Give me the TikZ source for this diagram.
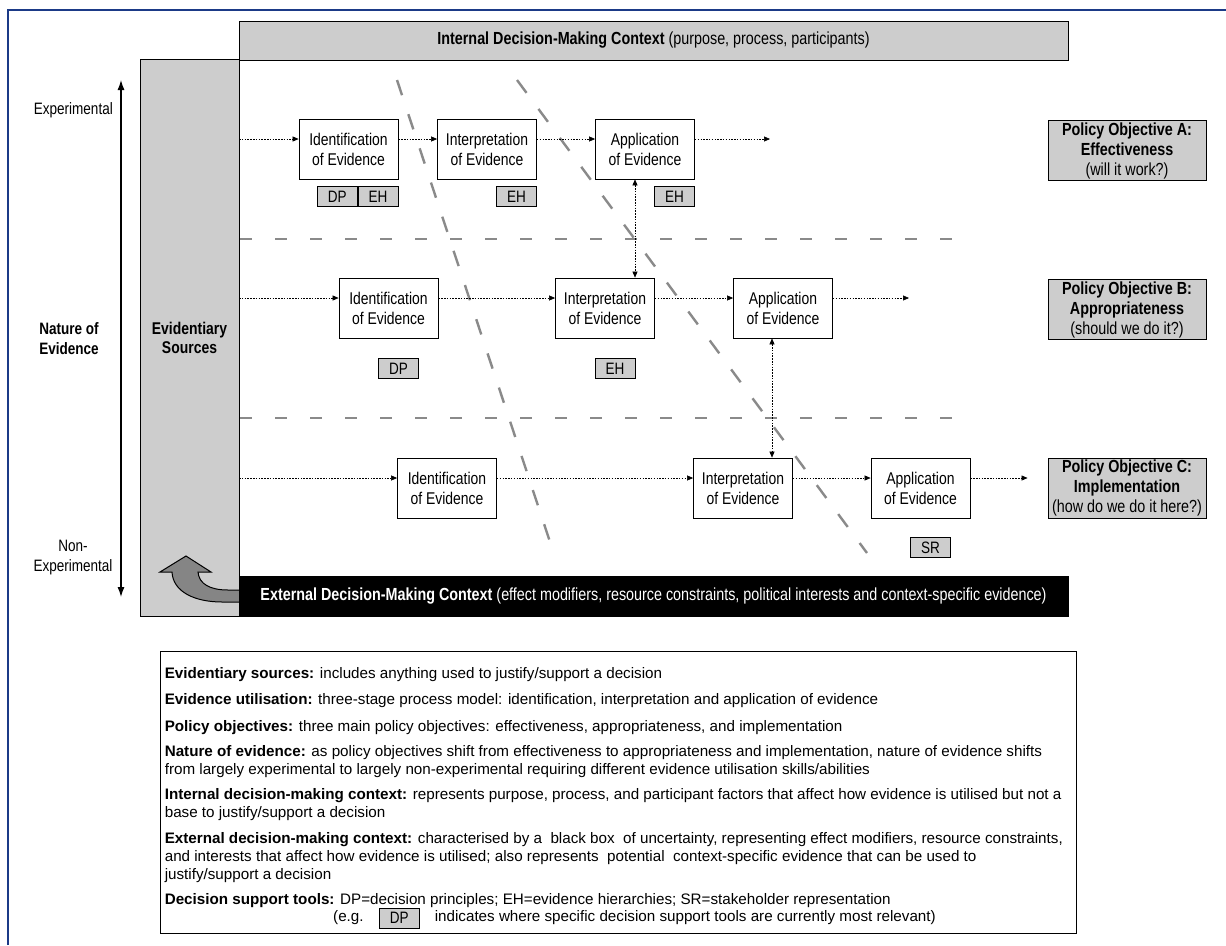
\documentclass[tikz,border=0pt]{standalone}
\usepackage{fontspec}
\setmainfont{Liberation Sans}
\newfontfamily\narrowfont{Liberation Sans}[FakeStretch=0.82]
\usetikzlibrary{arrows.meta,positioning}
\definecolor{FrameBlue}{HTML}{1B3A87}
\definecolor{StippleGray}{HTML}{CDCDCD}
\definecolor{HatchGray}{HTML}{858585}
\definecolor{DashGray}{HTML}{8A8A8A}

\begin{document}
\begin{tikzpicture}[
  x=1pt, y=-1pt,
  stage/.style={
    draw=black,
    line width=0.8pt,
    fill=white,
    minimum width=99pt,
    minimum height=60pt,
    inner sep=0pt,
    align=center,
    font=\narrowfont\fontsize{17}{20}\selectfont
  },
  tag/.style={
    draw=black,
    line width=0.8pt,
    fill=StippleGray,
    minimum width=40pt,
    minimum height=20pt,
    inner sep=0pt,
    font=\narrowfont\fontsize{16.5}{18}\selectfont
  },
  objective/.style={
    draw=black,
    line width=0.9pt,
    fill=StippleGray,
    minimum width=158pt,
    minimum height=60pt,
    inner sep=0pt,
    align=center,
    font=\narrowfont\fontsize{17.5}{20}\selectfont
  },
  contextbar/.style={
    draw=black,
    line width=0.9pt,
    minimum width=829pt,
    inner sep=0pt,
    font=\narrowfont\fontsize{17.5}{20}\selectfont
  },
  sidelabel/.style={
    inner sep=0pt,
    align=center,
    font=\narrowfont\fontsize{16.5}{20}\selectfont
  },
  legendtext/.style={
    inner sep=0pt,
    align=left,
    font=\fontsize{15.2}{18}\selectfont
  },
  flow/.style={
    -{Triangle[length=6pt,width=5pt]},
    line width=0.6pt,
    dash pattern=on 1.5pt off 1.3pt
  },
  twoway/.style={
    {Triangle[length=6pt,width=5pt]}-{Triangle[length=6pt,width=5pt]},
    line width=0.6pt,
    dash pattern=on 1.5pt off 1.3pt
  },
  divider/.style={
    draw=DashGray,
    line width=1.4pt,
    dash pattern=on 12pt off 23pt
  },
  slant/.style={
    draw=DashGray,
    line width=2.4pt,
    dash pattern=on 16pt off 20pt
  }
]
\useasboundingbox (0,0) rectangle (1226,945);
\fill[white] (0,0) rectangle (1226,945);

% Frame
\draw[FrameBlue, line width=2pt] (8,945) -- (8,10) -- (1226,10);

% Nature of evidence
\coordinate (natTop) at (121,80);
\coordinate (natBot) at (121,597);
\draw[{Latex[length=10pt,width=7pt]}-{Latex[length=10pt,width=7pt]},
  line width=1.2pt] (natTop) -- (natBot);
\node[sidelabel, anchor=east] (expt) at (113,110) {Experimental};
\node[sidelabel, font=\narrowfont\bfseries\fontsize{16.5}{20}\selectfont]
  (nature) at (69,339) {Nature of\\Evidence};
\node[sidelabel] (nonexpt) at (73,558) {Non-\\Experimental};

% Evidentiary sources and contexts
\node[draw=black, line width=0.9pt, fill=StippleGray,
  minimum width=99pt, minimum height=557pt, inner sep=0pt,
  align=center, font=\narrowfont\bfseries\fontsize{17}{19}\selectfont]
  (sources) at (189.5,337.5) {Evidentiary\\Sources};

\node[contextbar, fill=StippleGray, minimum height=39pt]
  (internal) at (653.5,40.5)
  {\textbf{Internal Decision-Making Context} (purpose, process, participants)};

% Feedback arrow
\draw[fill=HatchGray, line width=1pt]
  (240,590) -- (228,590) .. controls (210,590) and (199,584) .. (198,572)
  -- (211,572) -- (186,556) -- (160,572) -- (172,572)
  .. controls (173,592) and (195,602) .. (222,602) -- (240,602) -- cycle;

\node[contextbar, fill=black, text=white, minimum height=40pt]
  (external) at (653.5,596)
  {\textbf{External Decision-Making Context} (effect modifiers, resource constraints, political interests and context-specific evidence)};

% Dividers and slanted dashes
\draw[divider] (240,239) -- (968,239);
\draw[divider] (240,418) -- (968,418);
\draw[slant] (397,80) -- (555,557);
\draw[slant] (517,80) -- (867,553);

% Row A
\node[stage] (ident1) at (348.5,149) {Identification\\of Evidence};
\node[stage] (interp1) at (487,149) {Interpretation\\of Evidence};
\node[stage] (app1) at (645,149) {Application\\of Evidence};
\node[tag, below left=7pt and 0pt of ident1.south east] (eh1a) {EH};
\node[tag, left=0pt of eh1a] (dp1) {DP};
\node[tag, below left=7pt and 0pt of interp1.south east] (eh1b) {EH};
\node[tag, below left=7pt and 0pt of app1.south east] (eh1c) {EH};

% Row B
\node[stage] (ident2) at (388.5,308) {Identification\\of Evidence};
\node[stage] (interp2) at (605,308) {Interpretation\\of Evidence};
\node[stage] (app2) at (783,308) {Application\\of Evidence};
\node[tag, below=20pt of ident2, xshift=10pt] (dp2) {DP};
\node[tag, below=20pt of interp2, xshift=10pt] (eh2) {EH};

% Row C
\node[stage] (ident3) at (447,488) {Identification\\of Evidence};
\node[stage] (interp3) at (743,488) {Interpretation\\of Evidence};
\node[stage] (app3) at (920.5,488) {Application\\of Evidence};
\node[tag, below=19pt of app3, xshift=10pt] (sr3) {SR};

% Policy objectives
\node[objective] (objA) at (1127,150.5)
  {\textbf{Policy Objective A:}\\\textbf{Effectiveness}\\(will it work?)};
\node[objective] (objB) at (1127,309.5)
  {\textbf{Policy Objective B:}\\\textbf{Appropriateness}\\(should we do it?)};
\node[objective] (objC) at (1127,488)
  {\textbf{Policy Objective C:}\\\textbf{Implementation}\\(how do we do it here?)};

% Connections
\coordinate (in1) at (239,139);
\coordinate (in2) at (239,298);
\coordinate (in3) at (239,478);
\coordinate (out1) at (770,139);
\coordinate (out2) at (909,298);

\draw[flow] (in1) -- (in1 -| ident1.west);
\draw[flow] ([yshift=10pt]ident1.east) -- ([yshift=10pt]interp1.west);
\draw[flow] ([yshift=10pt]interp1.east) -- ([yshift=10pt]app1.west);
\draw[flow] ([yshift=10pt]app1.east) -- (out1);

\draw[flow] (in2) -- (in2 -| ident2.west);
\draw[flow] ([yshift=10pt]ident2.east) -- ([yshift=10pt]interp2.west);
\draw[flow] ([yshift=10pt]interp2.east) -- ([yshift=10pt]app2.west);
\draw[flow] ([yshift=10pt]app2.east) -- (out2);

\draw[flow] (in3) -- (in3 -| ident3.west);
\draw[flow] ([yshift=10pt]ident3.east) -- ([yshift=10pt]interp3.west);
\draw[flow] ([yshift=10pt]interp3.east) -- ([yshift=10pt]app3.west);
\draw[flow, shorten >=20pt] ([yshift=10pt]app3.east) -- ([yshift=10pt]objC.west);

\draw[twoway] ([xshift=-10pt]app1.south) -- ([xshift=30pt]interp2.north);
\draw[twoway] ([xshift=-11pt]app2.south) -- ([xshift=29pt]interp3.north);

% Legend
\node[draw=black, line width=0.8pt, minimum width=916pt,
  minimum height=282pt, inner sep=0pt] (legend) at (618,792) {};

\node[legendtext, below right=17pt and 5pt of legend.north west] (lsrc)
  {\textbf{Evidentiary sources:} includes anything used to justify/support a decision};
\node[legendtext, below right=11pt and 0pt of lsrc.south west] (luse)
  {\textbf{Evidence utilisation:} three-stage process model: identification, interpretation and application of evidence};
\node[legendtext, below right=13pt and 0pt of luse.south west] (lobj)
  {\textbf{Policy objectives:} three main policy objectives: effectiveness, appropriateness, and implementation};
\node[legendtext, below right=10pt and 0pt of lobj.south west] (lnat)
  {\textbf{Nature of evidence:} as policy objectives shift from effectiveness to appropriateness and implementation, nature of evidence shifts\\
   from largely experimental to largely non-experimental requiring different evidence utilisation skills/abilities};
\node[legendtext, below right=10pt and 0pt of lnat.south west] (lint)
  {\textbf{Internal decision-making context:} represents purpose, process, and participant factors that affect how evidence is utilised but not a\\
   base to justify/support a decision};
\node[legendtext, below right=12pt and 0pt of lint.south west] (lext)
  {\textbf{External decision-making context:} characterised by a~ black box~ of uncertainty, representing effect modifiers, resource constraints,\\
   and interests that affect how evidence is utilised; also represents~ potential~ context-specific evidence that can be used to\\
   justify/support a decision};
\node[legendtext, below right=10pt and 0pt of lext.south west] (ltool)
  {\textbf{Decision support tools:} DP=decision principles; EH=evidence hierarchies; SR=stakeholder representation};

\node[legendtext, anchor=west] (leg) at (333,918) {(e.g.};
\node[tag, right=15pt of leg] (dpkey) {DP};
\node[legendtext, right=15pt of dpkey] (lwhere)
  {indicates where specific decision support tools are currently most relevant)};

\end{tikzpicture}
\end{document}
